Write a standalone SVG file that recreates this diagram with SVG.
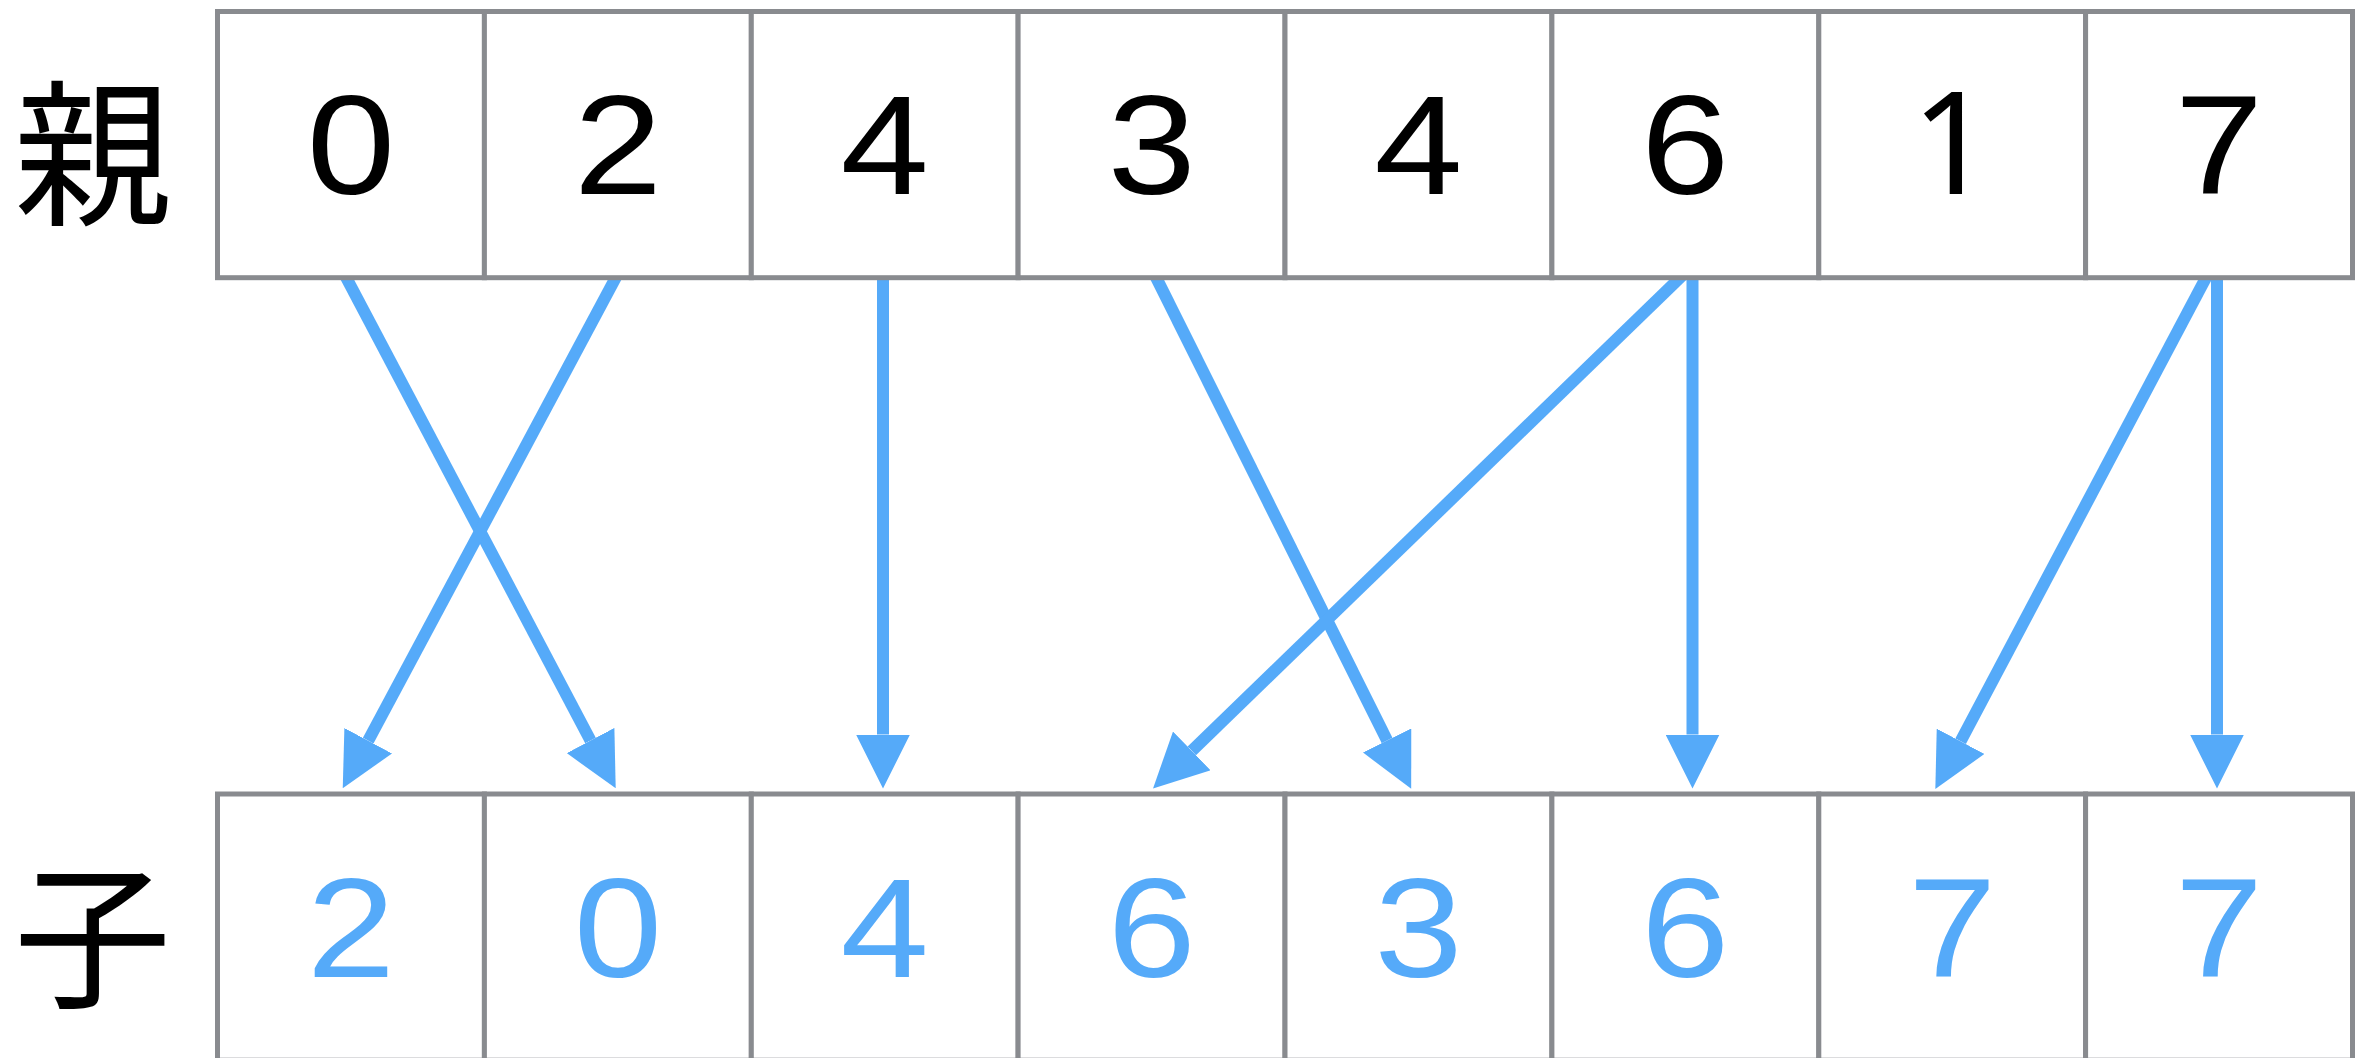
<svg xmlns="http://www.w3.org/2000/svg" width="2361" height="1058" viewBox="0 0 2361 1058">
  <style>
    .cell { fill: #ffffff; stroke: #898b8f; stroke-width: 5; }
    .digit { font-family: "Liberation Sans", Arial, sans-serif; font-size: 142px; text-anchor: middle; }
    .digit.plain-one { font-family: "Noto Sans", "Open Sans", sans-serif; font-size: 143px; }
    .parent .digit { fill: #000000; }
    .child .digit { fill: #55aaf9; }
    .label { font-family: "Noto Sans CJK JP", "Noto Sans CJK SC", sans-serif; font-size: 158px; text-anchor: middle; dominant-baseline: central; fill: #000000; }
    .link { stroke: #55aaf9; stroke-width: 12; fill: none; marker-end: url(#head); }
  </style>
  <defs>
    <marker id="head" markerUnits="userSpaceOnUse" viewBox="0 0 54 54" markerWidth="54" markerHeight="54" refX="0" refY="27" orient="auto">
      <path d="M0,0 L54,27 L0,54 Z" fill="#55aaf9"/>
    </marker>
  </defs>
  <rect x="0" y="0" width="2361" height="1058" fill="#ffffff"/>

  <!-- copy connectors: parent slot to child slot (drawn first so the top cells clip their ends) -->
  <g id="connectors">
    <line class="link" x1="338" y1="262" x2="590.5" y2="740.5"/>
    <line class="link" x1="624.1" y1="262" x2="368.2" y2="740.7"/>
    <line class="link" x1="883" y1="262" x2="883" y2="734.5"/>
    <line class="link" x1="1148.4" y1="262" x2="1387.1" y2="740.5"/>
    <line class="link" x1="1696.2" y1="262" x2="1191.8" y2="750.9"/>
    <line class="link" x1="1692.5" y1="262" x2="1692.5" y2="734.5"/>
    <line class="link" x1="2214.3" y1="262" x2="1960.6" y2="741.3"/>
    <line class="link" x1="2217" y1="262" x2="2217" y2="734.5"/>
  </g>

  <!-- row labels -->
  <g id="label-parent"><text class="label" x="93" y="144.6">親</text></g>
  <g id="label-child"><text class="label" x="92.5" y="927">子</text></g>

  <!-- parent array -->
  <g id="parent" class="parent">
    <g id="p0"><rect class="cell" x="217.5" y="11.5" width="266.9" height="266.2"/><text class="digit" transform="translate(351,194) scale(1.12,1)">0</text></g>
    <g id="p1"><rect class="cell" x="484.4" y="11.5" width="266.9" height="266.2"/><text class="digit" transform="translate(617.9,194) scale(1.12,1)">2</text></g>
    <g id="p2"><rect class="cell" x="751.3" y="11.5" width="266.8" height="266.2"/><text class="digit" transform="translate(884.7,194) scale(1.12,1)">4</text></g>
    <g id="p3"><rect class="cell" x="1018.1" y="11.5" width="266.9" height="266.2"/><text class="digit" transform="translate(1151.6,194) scale(1.12,1)">3</text></g>
    <g id="p4"><rect class="cell" x="1285" y="11.5" width="266.9" height="266.2"/><text class="digit" transform="translate(1418.4,194) scale(1.12,1)">4</text></g>
    <g id="p5"><rect class="cell" x="1551.9" y="11.5" width="266.9" height="266.2"/><text class="digit" transform="translate(1685.3,194) scale(1.12,1)">6</text></g>
    <g id="p6"><rect class="cell" x="1818.8" y="11.5" width="266.8" height="266.2"/><text class="digit plain-one" transform="translate(1952.2,194)">1</text></g>
    <g id="p7"><rect class="cell" x="2085.6" y="11.5" width="266.9" height="266.2"/><text class="digit" transform="translate(2219,194) scale(1.12,1)">7</text></g>
  </g>

  <!-- child array -->
  <g id="child" class="child">
    <g id="c0"><rect class="cell" x="217.5" y="794" width="266.9" height="266.2"/><text class="digit" transform="translate(351,976.5) scale(1.12,1)">2</text></g>
    <g id="c1"><rect class="cell" x="484.4" y="794" width="266.9" height="266.2"/><text class="digit" transform="translate(617.9,976.5) scale(1.12,1)">0</text></g>
    <g id="c2"><rect class="cell" x="751.3" y="794" width="266.8" height="266.2"/><text class="digit" transform="translate(884.7,976.5) scale(1.12,1)">4</text></g>
    <g id="c3"><rect class="cell" x="1018.1" y="794" width="266.9" height="266.2"/><text class="digit" transform="translate(1151.6,976.5) scale(1.12,1)">6</text></g>
    <g id="c4"><rect class="cell" x="1285" y="794" width="266.9" height="266.2"/><text class="digit" transform="translate(1418.4,976.5) scale(1.12,1)">3</text></g>
    <g id="c5"><rect class="cell" x="1551.9" y="794" width="266.9" height="266.2"/><text class="digit" transform="translate(1685.3,976.5) scale(1.12,1)">6</text></g>
    <g id="c6"><rect class="cell" x="1818.8" y="794" width="266.8" height="266.2"/><text class="digit" transform="translate(1952.2,976.5) scale(1.12,1)">7</text></g>
    <g id="c7"><rect class="cell" x="2085.6" y="794" width="266.9" height="266.2"/><text class="digit" transform="translate(2219,976.5) scale(1.12,1)">7</text></g>
  </g>
</svg>
